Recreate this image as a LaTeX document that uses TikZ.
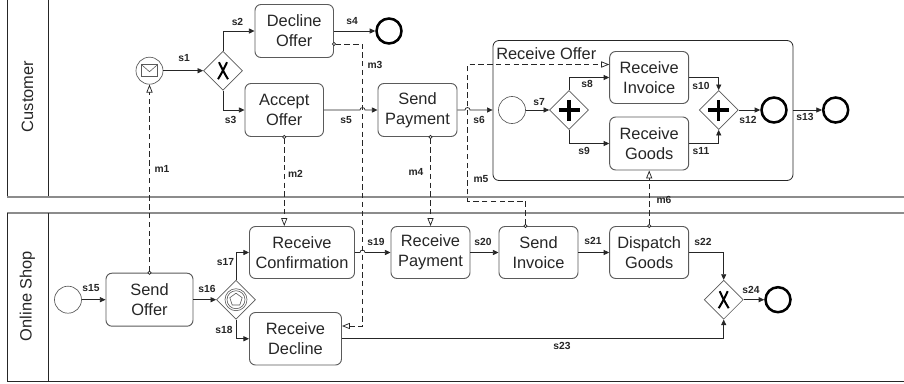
\documentclass[tikz,border=0pt]{standalone}
\usepackage{fontspec}
\setmainfont{Liberation Sans}
\usetikzlibrary{arrows.meta,shapes.geometric,calc}
\definecolor{ink}{HTML}{262626}
\definecolor{edgegrey}{HTML}{5A5A5A}
\definecolor{poolgrey}{HTML}{8C8C8C}
\tikzset{
  boxw/.style={minimum width=#1*0.75pt},
  boxh/.style={minimum height=#1*0.75pt},
  task/.style={draw=edgegrey,line width=0.7pt,rounded corners=4.5pt,fill=white,align=center,
    inner sep=0pt,font=\fontsize{12.3}{15}\selectfont,text=ink},
  subproc/.style={draw=ink,line width=0.6pt,rounded corners=4.5pt,inner sep=0pt},
  gate/.style={draw=edgegrey,line width=0.5pt,diamond,aspect=1,inner sep=0pt,minimum size=39*0.75pt,fill=white},
  startev/.style={draw=edgegrey,line width=0.5pt,circle,inner sep=0pt,minimum size=27*0.75pt,fill=white},
  endev/.style={draw=black,line width=1.9pt,circle,inner sep=0pt,minimum size=25*0.75pt,fill=white},
  seq/.style={draw=ink,line width=0.55pt,-{Triangle[length=4.2pt,width=3.8pt]}},
  msg/.style={draw=ink,line width=0.55pt,dash pattern=on 4pt off 2.6pt,shorten <=-1.5pt,
    {Circle[open,fill=white,length=3pt,width=3pt]}-{Triangle[open,fill=white,length=6pt,width=4.6pt]}},
  lab/.style={font=\fontsize{7.7}{9}\selectfont\bfseries,text=ink,inner sep=0pt},
  poolname/.style={rotate=90,font=\fontsize{12.3}{15}\selectfont,text=ink,inner sep=0pt},
  poolline/.style={draw=ink,line width=0.6pt},
  poolgreyline/.style={draw=poolgrey,line width=1.1pt},
  xmark/.style={draw=black,line width=1.5pt},
  plusmark/.style={draw=black,line width=2.3pt},
}
\newcommand{\jumpover}{arc[start angle=180,end angle=360,radius=2.5]}
\begin{document}
\begin{tikzpicture}[x=0.75pt,y=-0.75pt]
\useasboundingbox (0,0) rectangle (904,383);
\fill[white] (0,0) rectangle (904,383);
% pools
\draw[poolline] (7.5,0) -- (7.5,197);
\draw[poolline] (48.5,0) -- (48.5,197);
\draw[poolgreyline] (7,197) -- (904,197);
\draw[poolgreyline] (7,213) -- (904,213);
\draw[poolline] (7.5,213) -- (7.5,381.5) -- (904,381.5);
\draw[poolline] (48.5,213) -- (48.5,381.5);
\node[poolname] (customer) at (27.5,96.5) {Customer};
\node[poolname] (shop) at (27.5,296) {Online Shop};
% subprocess
\node[subproc,boxw=300,boxh=140] (sub) at (643,110.5) {};
\node[anchor=west,inner sep=0pt,font=\fontsize{12.3}{15}\selectfont,text=ink] (subname) at (496,53.5) {Receive Offer};
% customer nodes
\node[startev] (msgstart) at (149.5,70.7) {};
\node[gate] (x1) at (223,70.7) {};
\node[task,boxw=78.5,boxh=53] (decline) at (294.25,31) {Decline\\Offer};
\node[task,boxw=78.5,boxh=53] (accept) at (284.25,110) {Accept\\Offer};
\node[endev] (end1) at (389,31) {};
\node[task,boxw=79,boxh=53] (pay) at (417.5,110) {Send\\Payment};
\node[startev] (start2) at (512,110) {};
\node[gate] (and1) at (569,110) {};
\node[task,boxw=79,boxh=52] (rinv) at (649.2,77.5) {Receive\\Invoice};
\node[task,boxw=79,boxh=53] (rgoods) at (649.2,143.5) {Receive\\Goods};
\node[gate] (and2) at (718.7,110) {};
\node[endev] (end2) at (774,110) {};
\node[endev] (end3) at (835.7,110) {};
% shop nodes
\node[startev] (start3) at (68,299.7) {};
\node[task,boxw=87,boxh=53] (offer) at (149.5,299.7) {Send\\Offer};
\node[gate] (evg) at (236,299.7) {};
\node[task,boxw=105,boxh=52] (rconf) at (302,252.5) {Receive\\Confirmation};
\node[task,boxw=92,boxh=52.5] (rdec) at (295.5,338.75) {Receive\\Decline};
\node[task,boxw=79,boxh=52] (rpay) at (430.5,252.5) {Receive\\Payment};
\node[task,boxw=79,boxh=52] (sinv) at (538.5,252.5) {Send\\Invoice};
\node[task,boxw=79,boxh=52] (disp) at (649.2,252.5) {Dispatch\\Goods};
\node[gate] (x2) at (723.7,299.7) {};
\node[endev] (end4) at (778,299.7) {};
% gateway markers
\draw[xmark] ([shift={(-4,-8.5)}]x1.center) .. controls ([shift={(-1,-2)}]x1.center) and ([shift={(1,2)}]x1.center) .. ([shift={(5,8.5)}]x1.center);
\draw[xmark] ([shift={(4,-8.5)}]x1.center) .. controls ([shift={(1,-2)}]x1.center) and ([shift={(-1,2)}]x1.center) .. ([shift={(-5,8.5)}]x1.center);
\draw[xmark] ([shift={(-4,-8.5)}]x2.center) .. controls ([shift={(-1,-2)}]x2.center) and ([shift={(1,2)}]x2.center) .. ([shift={(5,8.5)}]x2.center);
\draw[xmark] ([shift={(4,-8.5)}]x2.center) .. controls ([shift={(1,-2)}]x2.center) and ([shift={(-1,2)}]x2.center) .. ([shift={(-5,8.5)}]x2.center);
\draw[plusmark] ([xshift=-10.5*0.75pt]and1.center) -- ([xshift=10.5*0.75pt]and1.center);
\draw[plusmark] ([yshift=-10.5*0.75pt]and1.center) -- ([yshift=10.5*0.75pt]and1.center);
\draw[plusmark] ([xshift=-10.5*0.75pt]and2.center) -- ([xshift=10.5*0.75pt]and2.center);
\draw[plusmark] ([yshift=-10.5*0.75pt]and2.center) -- ([yshift=10.5*0.75pt]and2.center);
\node[draw=edgegrey,line width=0.45pt,circle,inner sep=0pt,minimum size=22*0.75pt] (evgo) at (evg.center) {};
\node[draw=edgegrey,line width=0.45pt,circle,inner sep=0pt,minimum size=18*0.75pt] (evgi) at (evg.center) {};
\node[draw=edgegrey,line width=0.45pt,regular polygon,regular polygon sides=5,inner sep=0pt,minimum size=13*0.75pt] (evgp) at (evg.center) {};
% envelope
\node[draw=edgegrey,line width=0.45pt,inner sep=0pt,minimum width=16*0.75pt,minimum height=12*0.75pt] (env) at (msgstart.center) {};
\draw[edgegrey,line width=0.45pt] (env.north west) -- ($(env.center)+(0,1)$) -- (env.north east);
% coordinates for connectors
\coordinate (mx) at (362.5,44);
\coordinate (m5x) at (467.5,64.5);
\coordinate (m5t) at (467.5,201);
\coordinate (m3end) at (362.5,326);
\coordinate (cross5) at (mx |- accept.east);
\coordinate (cross19) at (mx |- rconf.east);
\coordinate (cross6) at (m5x |- pay.east);
% sequence flows
\draw[seq] (msgstart.east) -- (x1.west);
\draw[seq] (x1.north) |- (decline.west);
\draw[seq] (x1.south) |- (accept.west);
\draw[seq] (decline.east) -- (end1.west);
\draw[seq] (accept.east) -- ($(cross5)+(-2.5,0)$) \jumpover -- (pay.west);
\draw[seq] (pay.east) -- ($(cross6)+(-2.5,0)$) \jumpover -- (sub.west |- pay.east);
\draw[seq] (start2.east) -- (and1.west);
\draw[seq] (and1.north) |- (rinv.west);
\draw[seq] (and1.south) |- (rgoods.west);
\draw[seq] (rinv.east) -| (and2.north);
\draw[seq] (rgoods.east) -| (and2.south);
\draw[seq] (and2.east) -- (end2.west);
\draw[seq] (sub.east |- end3.west) -- (end3.west);
\draw[seq] (start3.east) -- (offer.west);
\draw[seq] (offer.east) -- (evg.west);
\draw[seq] (evg.north) |- (rconf.west);
\draw[seq] (evg.south) |- (rdec.west);
\draw[seq] (rconf.east) -- ($(cross19)+(-2.5,0)$) \jumpover -- (rpay.west);
\draw[seq] (rpay.east) -- (sinv.west);
\draw[seq] (sinv.east) -- (disp.west);
\draw[seq] (disp.east) -| (x2.north);
\draw[seq] (rdec.east) -| (x2.south);
\draw[seq] (x2.east) -- (end4.west);
% message flows
\draw[msg] (offer.north) -- (msgstart.south);
\draw[msg] (accept.south) -- (accept.south |- rconf.north);
\draw[msg] (decline.east |- mx) -- (mx) -- (m3end) -- (rdec.east |- m3end);
\draw[msg] (pay.south -| rpay.north) -- (rpay.north);
\draw[msg] (sinv.north -| 525.5,0) -- (525.5,201) -- (m5t) -- (m5x) -- (rinv.west |- m5x);
\draw[msg] (disp.north) -- (rgoods.south);
% labels
\node[lab] (s1) at (184,58) {s1};
\node[lab] (s2) at (237.5,22) {s2};
\node[lab] (s3) at (230.5,120) {s3};
\node[lab] (s4) at (352,21) {s4};
\node[lab] (s5) at (346,120) {s5};
\node[lab] (s6) at (479,120) {s6};
\node[lab] (s7) at (539,102) {s7};
\node[lab] (s8) at (587,84) {s8};
\node[lab] (s9) at (584,150.5) {s9};
\node[lab] (s10) at (701,85.5) {s10};
\node[lab] (s11) at (701,151) {s11};
\node[lab] (s12) at (748,120) {s12};
\node[lab] (s13) at (805,117) {s13};
\node[lab] (m1) at (162,169) {m1};
\node[lab] (m2) at (295.5,174) {m2};
\node[lab] (m3) at (375,65) {m3};
\node[lab] (m4) at (416,171.5) {m4};
\node[lab] (m5) at (481,179) {m5};
\node[lab] (m6) at (664,199.5) {m6};
\node[lab] (s15) at (91,288) {s15};
\node[lab] (s16) at (207,288.5) {s16};
\node[lab] (s17) at (225.5,262) {s17};
\node[lab] (s18) at (224,329.5) {s18};
\node[lab] (s19) at (376,242) {s19};
\node[lab] (s20) at (483,242) {s20};
\node[lab] (s21) at (593,241) {s21};
\node[lab] (s22) at (703,242) {s22};
\node[lab] (s23) at (562,346) {s23};
\node[lab] (s24) at (751,290) {s24};
\end{tikzpicture}
\end{document}
